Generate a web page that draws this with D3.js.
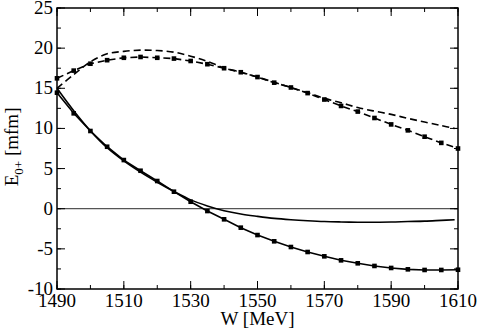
<!DOCTYPE html>
<html>
<head>
<meta charset="utf-8">
<script src="https://cdn.jsdelivr.net/npm/d3@7"></script>
<style>
  body { margin: 0; background: #fff; }
</style>
</head>
<body>
<script>
//chart values
var wFull = [1490, 1495, 1500, 1505, 1510, 1515, 1520, 1525, 1530, 1535, 1540, 1545, 1550, 1555,
             1560, 1565, 1570, 1575, 1580, 1585, 1590, 1595, 1600, 1605, 1610];
var wCurve = [1490, 1495, 1500, 1505, 1510, 1515, 1520, 1525, 1530, 1535, 1540, 1545, 1550, 1555,
              1560, 1565, 1570, 1575, 1580, 1585, 1590, 1595, 1600, 1605, 1609];

//solid curve, no symbols
var solidPlain = [15.0, 12.2, 9.7, 7.6, 5.95, 4.55, 3.3, 2.15, 1.1, 0.35, -0.25, -0.66, -0.95, -1.2,
                  -1.37, -1.5, -1.6, -1.65, -1.68, -1.68, -1.66, -1.6, -1.55, -1.45, -1.37];
//solid curve with symbols
var solidSym = [14.45, 11.88, 9.68, 7.72, 6.06, 4.73, 3.45, 2.12, 0.87, -0.29, -1.32, -2.36, -3.28, -4.06,
                -4.77, -5.39, -5.93, -6.43, -6.8, -7.13, -7.38, -7.55, -7.63, -7.63, -7.6];
//dashed curve, no symbols
var dashPlain = [15.0, 16.7, 18.3, 19.3, 19.6, 19.75, 19.7, 19.5, 19.0, 18.35, 17.55, 17.0, 16.4, 15.75,
                 15.1, 14.45, 13.75, 13.2, 12.6, 12.15, 11.75, 11.25, 10.8, 10.35, 10.0];
//dashed curve with symbols
var dashSym = [16.24, 17.2, 18.06, 18.5, 18.8, 18.9, 18.8, 18.7, 18.4, 18.0, 17.5, 17.0, 16.4, 15.7,
               15.1, 14.4, 13.6, 12.8, 12.1, 11.3, 10.5, 9.76, 8.97, 8.2, 7.5];

var xLabels = [1490, 1510, 1530, 1550, 1570, 1590, 1610];
var yLabels = [-10, -5, 0, 5, 10, 15, 20, 25];

window.onload = drawChart();

function drawChart(){

    var width = 479,
        height = 329;
    var margin = {top: 8, right: 21, bottom: 40, left: 57};
    var serif = "'Liberation Serif', 'Times New Roman', serif";

    var svg = d3.select("body")
        .append("svg")
        .attr("width", width)
        .attr("height", height)
        .style("font-family", serif);

    var x = d3.scaleLinear().domain([1490, 1610]).range([margin.left, width - margin.right]);
    var y = d3.scaleLinear().domain([-10, 25]).range([height - margin.bottom, margin.top]);

    //zero line
    svg.append("line")
        .attr("x1", x(1490)).attr("x2", x(1610))
        .attr("y1", y(0)).attr("y2", y(0))
        .attr("stroke", "#555")
        .attr("stroke-width", 1.2);

    //ticks pointing inward on all four sides
    var xMinor = d3.range(1490, 1611, 10),
        yMinor = d3.range(-10, 25.1, 2.5);

    function addTicks(axis, vals, len){
        var g = svg.append("g").attr("stroke", "#000").attr("stroke-width", 1);
        vals.forEach(function(v){
            if (axis == "x"){
                g.append("line").attr("x1", x(v)).attr("x2", x(v))
                    .attr("y1", y(-10)).attr("y2", y(-10) - len);
                g.append("line").attr("x1", x(v)).attr("x2", x(v))
                    .attr("y1", y(25)).attr("y2", y(25) + len);
            } else {
                g.append("line").attr("y1", y(v)).attr("y2", y(v))
                    .attr("x1", x(1490)).attr("x2", x(1490) + len);
                g.append("line").attr("y1", y(v)).attr("y2", y(v))
                    .attr("x1", x(1610)).attr("x2", x(1610) - len);
            }
        });
    }
    addTicks("x", xMinor, 4);
    addTicks("x", xLabels, 8);
    addTicks("y", yMinor, 4);
    addTicks("y", yLabels, 8);

    //frame
    svg.append("rect")
        .attr("x", x(1490)).attr("y", y(25))
        .attr("width", x(1610) - x(1490))
        .attr("height", y(-10) - y(25))
        .attr("fill", "none")
        .attr("stroke", "#000")
        .attr("stroke-width", 1.5);

    //tick labels
    svg.selectAll(".xlab")
        .data(xLabels)
        .enter()
        .append("text")
        .attr("class", "xlab")
        .attr("x", function(d){ return x(d); })
        .attr("y", y(-10) + 17.5)
        .attr("text-anchor", "middle")
        .attr("font-size", 19)
        .text(function(d){ return d; });

    svg.selectAll(".ylab")
        .data(yLabels)
        .enter()
        .append("text")
        .attr("class", "ylab")
        .attr("x", x(1490) - 4)
        .attr("y", function(d){ return y(d) + 6; })
        .attr("text-anchor", "end")
        .attr("font-size", 19)
        .text(function(d){ return d; });

    //axis titles
    svg.append("text")
        .attr("x", (x(1490) + x(1610)) / 2)
        .attr("y", 325)
        .attr("text-anchor", "middle")
        .attr("font-size", 19)
        .text("W [MeV]");

    var yTitle = svg.append("text")
        .attr("transform", "translate(18," + y(7.7) + ") rotate(-90)")
        .attr("text-anchor", "middle")
        .attr("font-size", 19);
    yTitle.append("tspan").text("E");
    yTitle.append("tspan").attr("font-size", 13).attr("dy", 5).text("0+");
    yTitle.append("tspan").attr("dy", -5).text(" [mfm]");

    //curves
    function series(xs, ys){
        return xs.map(function(d, i){ return [d, ys[i]]; });
    }
    var smooth = d3.line()
        .x(function(d){ return x(d[0]); })
        .y(function(d){ return y(d[1]); })
        .curve(d3.curveCatmullRom);
    var straight = d3.line()
        .x(function(d){ return x(d[0]); })
        .y(function(d){ return y(d[1]); });

    var curves = [
        {pts: series(wCurve, solidPlain), line: smooth, dash: null, sym: false},
        {pts: series(wFull, solidSym), line: straight, dash: null, sym: true},
        {pts: series(wCurve, dashPlain), line: smooth, dash: "7,4", sym: false},
        {pts: series(wFull, dashSym), line: straight, dash: "7,4", sym: true}
    ];

    curves.forEach(function(c){
        svg.append("path")
            .datum(c.pts)
            .attr("d", c.line)
            .attr("fill", "none")
            .attr("stroke", "#000")
            .attr("stroke-width", 1.6)
            .attr("stroke-dasharray", c.dash);
        if (c.sym){
            svg.selectAll(null)
                .data(c.pts)
                .enter()
                .append("rect")
                .attr("x", function(d){ return x(d[0]) - 2.3; })
                .attr("y", function(d){ return y(d[1]) - 2.3; })
                .attr("width", 4.6)
                .attr("height", 4.6)
                .attr("fill", "#000");
        }
    });
}
</script>
</body>
</html>
